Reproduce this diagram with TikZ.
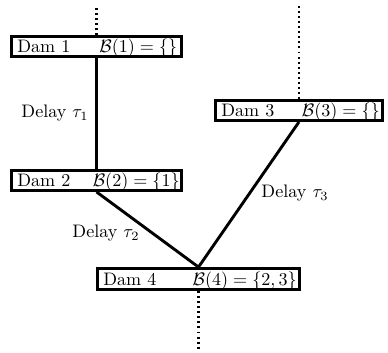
\documentclass[tikz,border=0pt]{standalone}
\usetikzlibrary{calc}
\begin{document}
\begin{tikzpicture}[x=0.5525pt,y=-0.5525pt,
  dambox/.style={draw,line width=1.6pt,minimum height=11pt,inner sep=0pt},
  txt/.style={inner sep=0pt},
  conn/.style={line width=1.6pt},
  dots/.style={line width=1.5pt,dash pattern=on 1.1pt off 1.7pt}]
\useasboundingbox (0,0) rectangle (388,352);
% boxes
\node[dambox,minimum width=94pt] (d1) at (96.5,46.5) {};
\node[dambox,minimum width=94pt] (d2) at (96.5,180.5) {};
\node[dambox,minimum width=92.3pt] (d3) at (299,110.5) {};
\node[dambox,minimum width=111.6pt,minimum height=11.6pt] (d4) at (198.5,279) {};
% texts
\node[txt,anchor=base west] (d1a) at (17,52) {Dam 1};
\node[txt,anchor=base east] (d1b) at (177.5,52) {$\mathcal{B}(1)=\{\}$};
\node[txt,anchor=base west] (d2a) at (17,186) {Dam 2};
\node[txt,anchor=base east] (d2b) at (180,186) {$\mathcal{B}(2)=\{1\}$};
\node[txt,anchor=base west] (d3a) at (221,116) {Dam 3};
\node[txt,anchor=base east] (d3b) at (380,116) {$\mathcal{B}(3)=\{\}$};
\node[txt,anchor=base west] (d4a) at (103,285) {Dam 4};
\node[txt,anchor=base east] (d4b) at (297,285) {$\mathcal{B}(4)=\{2,3\}$};
% dotted ends
\coordinate (t1) at (96.5,5);
\coordinate (t3) at (299,5);
\coordinate (t4) at (198.5,350);
\draw[dots] (d1.north) -- (t1);
\draw[dots] (d3.north) -- (t3);
\draw[dots] (d4.south) -- (t4);
% connectors
\draw[conn] (d1.south) -- (d2.north);
\draw[conn] (d2.south) -- (d4.north);
\draw[conn] (d3.south) -- (d4.north);
% labels
\node[txt] (l1) at (55,113) {Delay $\tau_1$};
\node[txt] (l2) at (106,233) {Delay $\tau_2$};
\node[txt] (l3) at (295,193) {Delay $\tau_3$};
\end{tikzpicture}
\end{document}
